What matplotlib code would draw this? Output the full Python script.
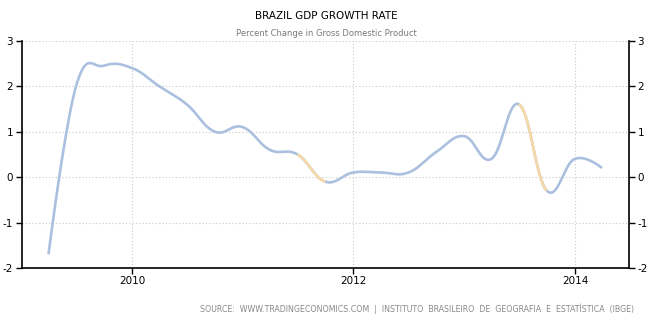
import numpy as np
import pandas as pd
import matplotlib
matplotlib.use('Agg')
import matplotlib.pyplot as plt
import matplotlib.dates as mdates

# Квартальные данные: рост ВВП Бразилии, % к предыдущему кварталу
quarters = pd.period_range('2009Q1', periods=21, freq='Q').end_time.normalize()
gdp_growth = [-1.7, 2.0, 2.45, 2.4, 2.0, 1.6, 1.0, 1.1, 0.6, 0.5, -0.1,
              0.1, 0.1, 0.1, 0.55, 0.9, 0.4, 1.6, -0.3, 0.4, 0.2]
# Отрезки (индекс начальной точки), выделенные оранжевым
orange_segments = [9, 17]
year_ticks = [2010, 2012, 2014]
y_ticks = [-2, -1, 0, 1, 2, 3]

title = 'BRAZIL GDP GROWTH RATE'
subtitle = 'Percent Change in Gross Domestic Product'
source = 'SOURCE:  WWW.TRADINGECONOMICS.COM  |  INSTITUTO  BRASILEIRO  DE  GEOGRAFIA  E  ESTATÍSTICA  (IBGE)'

BLUE = '#abc0df'
ORANGE = '#f7d9a8'


def spline_segments(x, y, smoothing=1.5, steps=40):
    # Кубические кривые Безье между соседними точками (сглаживание как в Highcharts)
    n = len(x)
    left = [(x[i], y[i]) for i in range(n)]
    right = [(x[i], y[i]) for i in range(n)]
    for i in range(1, n - 1):
        lx = (smoothing * x[i] + x[i - 1]) / (smoothing + 1)
        ly = (smoothing * y[i] + y[i - 1]) / (smoothing + 1)
        rx = (smoothing * x[i] + x[i + 1]) / (smoothing + 1)
        ry = (smoothing * y[i] + y[i + 1]) / (smoothing + 1)
        corr = (ry - ly) * (rx - x[i]) / (rx - lx) + y[i] - ry
        left[i] = (lx, ly + corr)
        right[i] = (rx, ry + corr)
    t = np.linspace(0, 1, steps)[:, None]
    segs = []
    for i in range(n - 1):
        p0 = np.array([x[i], y[i]])
        p1 = np.array(right[i])
        p2 = np.array(left[i + 1])
        p3 = np.array([x[i + 1], y[i + 1]])
        seg = ((1 - t) ** 3 * p0 + 3 * (1 - t) ** 2 * t * p1
               + 3 * (1 - t) * t ** 2 * p2 + t ** 3 * p3)
        segs.append(seg)
    return segs


xnum = mdates.date2num(quarters.to_pydatetime())
segs = spline_segments(list(xnum), list(gdp_growth))

fig = plt.figure(figsize=(6.53, 3.28), dpi=100)
ax = fig.add_axes([21.5 / 653, 1 - 268 / 328, (629 - 21.5) / 653, (268 - 40.7) / 328])

full = np.vstack(segs)
ax.plot(full[:, 0], full[:, 1], color=BLUE, lw=1.9, solid_capstyle='butt', zorder=3)
for i in orange_segments:
    ax.plot(segs[i][:, 0], segs[i][:, 1], color=ORANGE, lw=1.9,
            solid_capstyle='butt', zorder=4)

ax.set_xlim(mdates.date2num(pd.Timestamp('2009-01-01')),
            mdates.date2num(pd.Timestamp('2014-06-28')))
ax.set_ylim(-2, 3)

xt = [mdates.date2num(pd.Timestamp(f'{y}-01-01')) for y in year_ticks]
ax.set_xticks(xt)
ax.set_xticklabels([str(y) for y in year_ticks])
ax.set_yticks(y_ticks)
ax.set_yticklabels([str(v) for v in y_ticks])

ax.grid(True, color='#c8c8c8', linestyle=(0, (1, 2)), linewidth=0.8)
ax.set_axisbelow(True)

for side in ['left', 'right', 'bottom']:
    ax.spines[side].set_color('black')
    ax.spines[side].set_linewidth(1.2)
ax.spines['top'].set_visible(False)

ax.tick_params(axis='y', which='both', left=True, right=True,
               labelleft=True, labelright=True, direction='out',
               length=4, width=1, pad=2, labelsize=7.5, colors='black')
ax.tick_params(axis='x', direction='out', length=4, width=1, pad=2,
               labelsize=7.5, colors='black')

fig.text(0.5, 1 - 16 / 328, title, ha='center', va='center',
         fontsize=7.5, color='black')
fig.text(0.5, 1 - 33 / 328, subtitle, ha='center', va='center',
         fontsize=6, color='#7a7a7a')
fig.text(417.5 / 653, 1 - 309 / 328, source, ha='center', va='center',
         fontsize=5.7, color='#8a8a8a')

fig.savefig('out.png', dpi=100)
